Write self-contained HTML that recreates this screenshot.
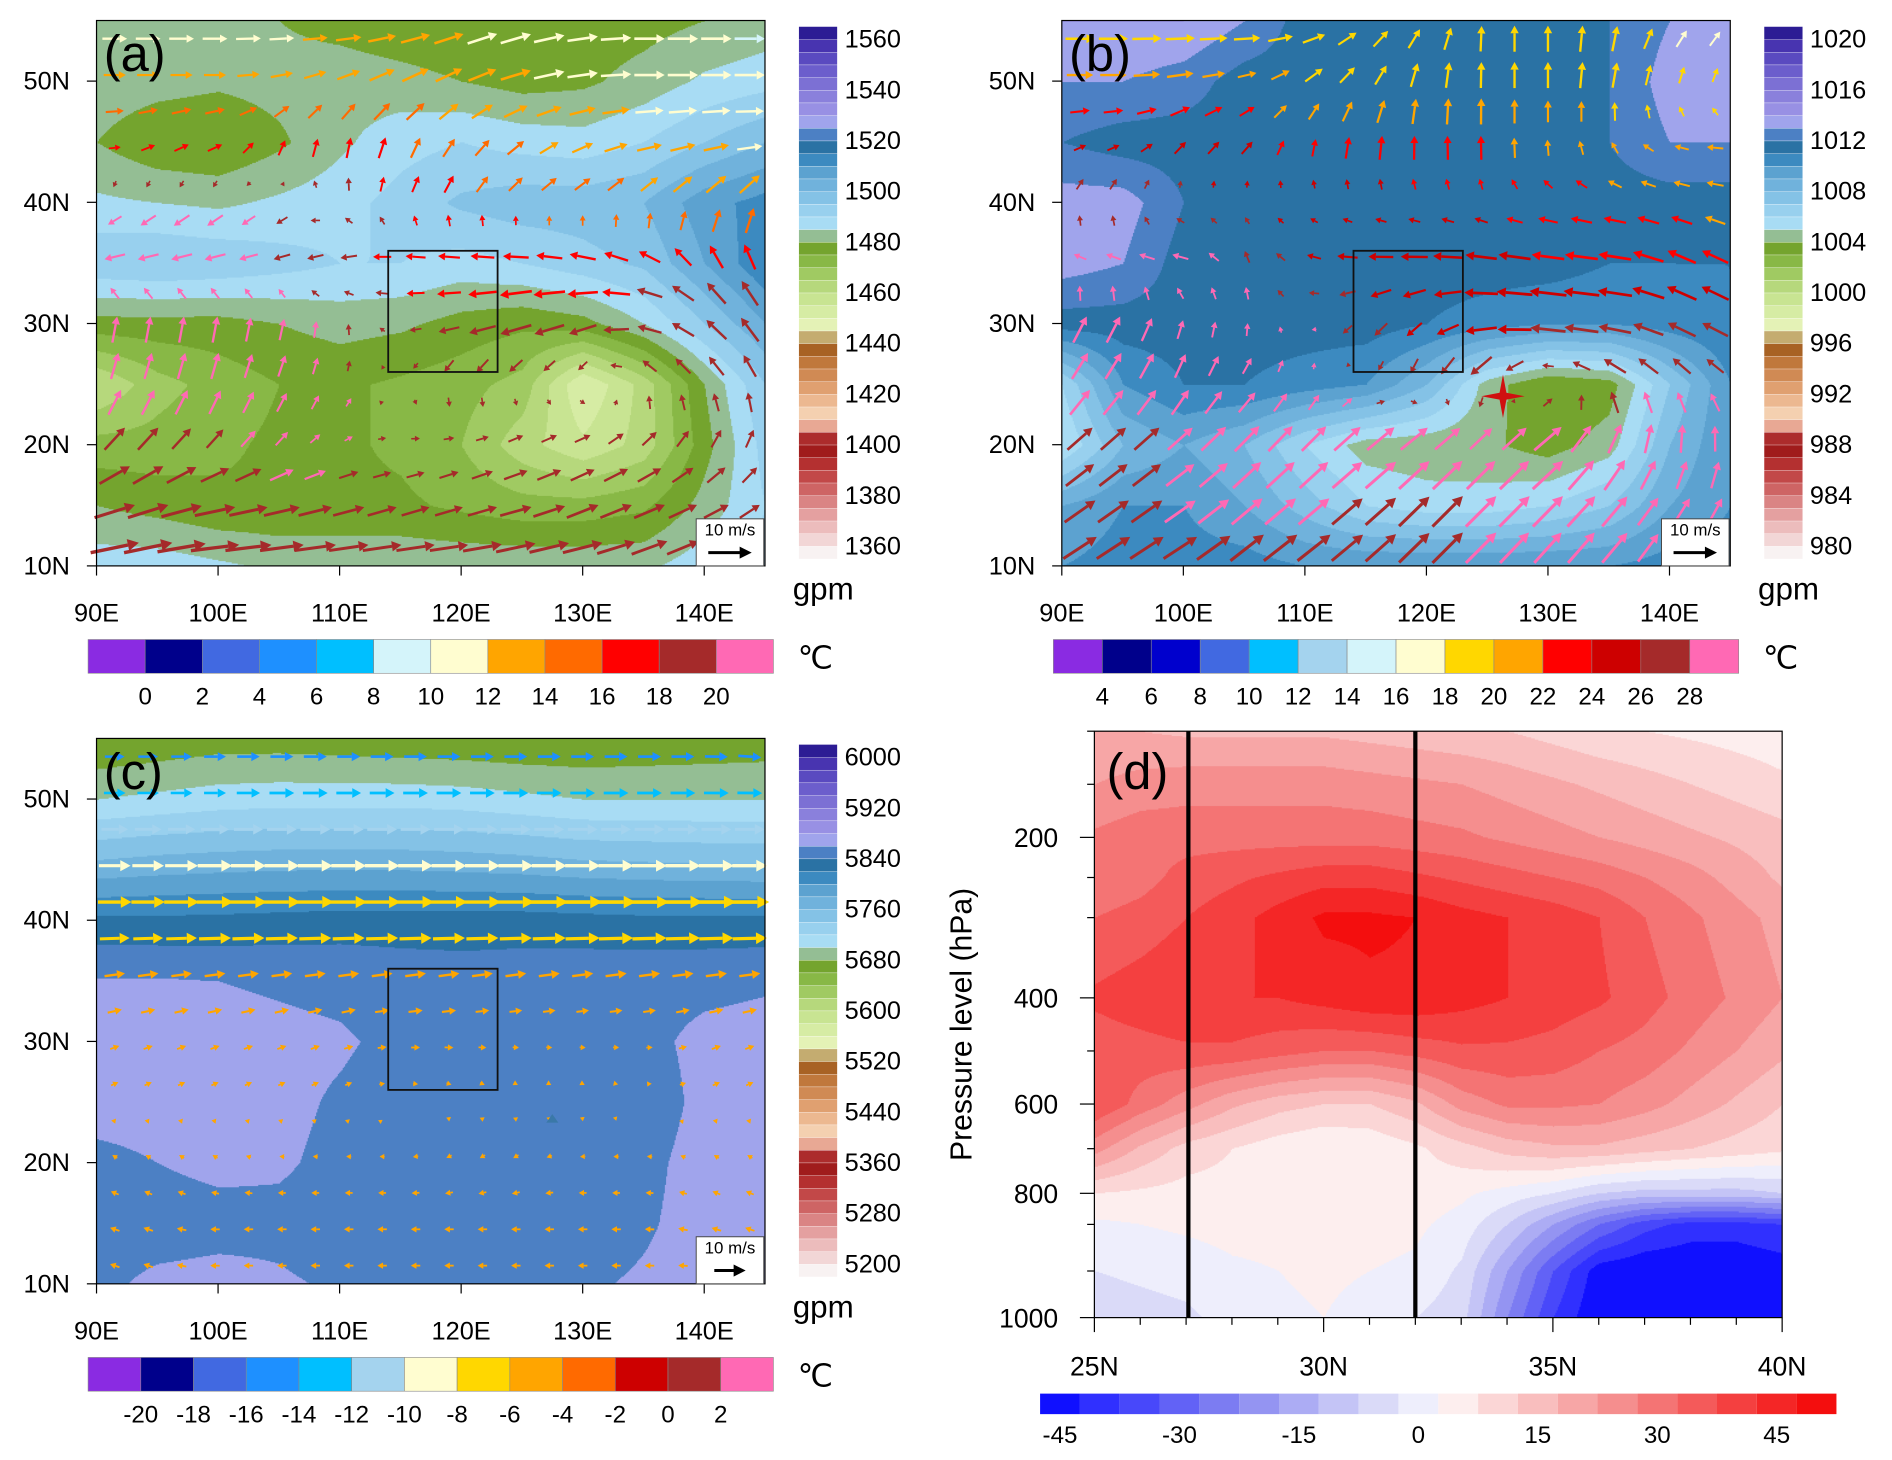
<!DOCTYPE html>
<html><head><meta charset="utf-8">
<style>
html,body{margin:0;padding:0;background:#fff;}
#wrap{position:relative;width:1892px;height:1460px;overflow:hidden;}
#stage{position:absolute;left:0;top:0;width:1568px;height:1210px;transform:scale(1.2066);transform-origin:0 0;}
canvas{position:absolute;}
svg{position:absolute;left:0;top:0;}
text{font-family:"Liberation Sans",sans-serif;fill:#000;}
</style></head>
<body>
<div id="wrap">
<div id="stage">
<canvas id="cva"></canvas>
<canvas id="cvb"></canvas>
<canvas id="cvc"></canvas>
<canvas id="cvd"></canvas>
<svg id="sv" width="1568" height="1210" viewBox="0 0 1568 1210"></svg>
</div></div>
<script>
// ---------- data ----------
const lons=[90,95,100,105,110,115,120,125,130,135,140,145];
const lats=[55,50,45,40,35,30,25,20,15,10];
const hgtA=[
[1483,1482,1481,1480,1478,1476,1475,1476,1477,1478,1480,1482],
[1483,1482,1481,1482,1483,1482,1480,1478,1479,1482,1486,1488],
[1480,1476,1475,1479,1484,1488,1490,1488,1487,1490,1495,1500],
[1486,1485,1484,1486,1488,1492,1496,1498,1498,1500,1508,1512],
[1494,1495,1494,1492,1490,1490,1488,1490,1493,1496,1505,1514],
[1478,1478,1478,1480,1482,1481,1478,1476,1478,1485,1495,1505],
[1460,1468,1472,1475,1476,1474,1472,1468,1450,1462,1480,1495],
[1472,1472,1474,1476,1476,1474,1470,1462,1456,1462,1478,1492],
[1480,1478,1476,1476,1476,1476,1474,1472,1472,1474,1482,1490],
[1488,1488,1486,1484,1484,1484,1484,1484,1484,1484,1488,1492]];
const uA=[[6,6,6,6,6,7,7,7,7,7,7,7],[5,5,5,5,5,6,6,7,7,7,7,7],[3,4,4,2,1,2,3,4,5,6,6,6],[-2,-3,-3,-2,-1,1,2,3,3,3,4,4],[-5,-5,-5,-4,-4,-5,-6,-7,-7,-6,-4,-3],[1,1,1,1,0,-2,-6,-8,-7,-6,-5,-4],[2,2,2,2,1,0,-1,-1,0,-2,-3,-2],[5,5,4,3,2,2,3,4,4,4,3,2],[9,9,9,8,7,6,6,7,7,7,6,4],[12,12,12,11,10,10,10,10,10,9,7,5]];
const vA=[[0,0,0,0,0,1,2,2,1,0,0,0],[0,0,0,1,2,3,3,2,1,0,0,0],[0,2,2,4,5,5,4,3,2,1,1,0],[-2,-3,-3,-2,2,3,4,3,3,4,5,6],[-1,-1,-1,-1,-1,0,0,0,1,2,5,6],[6,6,6,5,3,0,-1,-2,-2,1,4,6],[6,6,6,5,3,-1,-4,-3,-2,3,4,5],[5,5,4,3,1,0,1,2,2,3,4,4],[3,3,2,2,2,2,2,2,3,3,3,3],[2,2,1,1,1,1,1,2,2,3,3,3]];
const tA=[[11,11,11,11,13,12,12,11,11,11,11,9],[14,14,14,14,14,14,13,12,12,11,11,11],[16,17,17,17,17,16,14,14,13,13,12,11],[21,21,21,20,19,18,17,16,15,14,14,14],[21,21,21,20,19,17,17,17,17,18,18,18],[21,21,21,21,20,19,18,18,18,18,19,19],[21,21,21,21,20,19,19,19,19,19,19,19],[19,19,19,21,21,19,19,19,19,19,19,19],[19,19,19,19,19,19,19,19,19,19,19,19],[19,19,19,19,19,19,19,19,19,19,19,19]];
const slpB=[
[1014,1014,1014,1013,1011.5,1011.5,1011.5,1011.5,1011.5,1012,1013,1014],
[1013,1013,1012.5,1011.5,1011.5,1011.5,1011.5,1011.5,1011.5,1012,1013.5,1014],
[1012,1011.5,1011.5,1011.5,1011.5,1011.5,1011.5,1011.5,1011.5,1012,1013,1013],
[1013.5,1013.5,1012,1011.5,1011.5,1011.5,1011.5,1011.5,1011.5,1011.5,1011.5,1011.5],
[1013.5,1013,1011.5,1011.5,1011.5,1011.5,1011.5,1011.5,1011.5,1011,1011,1011],
[1011.5,1011.5,1011.5,1011.5,1011.5,1011.5,1011,1010.5,1010,1010,1010.5,1011],
[1006,1010,1011,1011,1010.5,1010,1008,1004.5,1003,1003.5,1007,1010],
[1005,1008,1009,1008,1006,1004.5,1004.3,1004.2,1003.5,1004.5,1008,1010],
[1009,1010,1010,1009,1007.5,1006,1005.5,1005.5,1006,1007,1009,1010],
[1010,1010.5,1010.5,1010.5,1010,1010,1010,1010,1010,1010,1010.5,1010.5]];
const uB=[[7,7,7,7,6,4,3,0,0,1,3,3],[6,6,6,4,4,3,1,0,0,1,1,1],[3,3,3,3,1,1,0,0,0,-1,-3,-4],[1,1,-1,-1,-1,-1,-1,-1,-3,-4,-4,-4],[-3,-4,-4,-1,-3,-6,-7,-8,-8,-8,-7,-6],[3,3,1,0,-1,-3,-4,-8,-9,-8,-7,-6],[4,4,3,3,1,0,-1,-4,0,-4,-3,-3],[6,6,6,6,6,7,7,6,7,4,1,0],[7,7,7,7,7,7,7,7,7,6,4,3],[8,8,8,8,8,7,7,7,6,6,4,3]];
const vB=[[0,0,0,0,1,3,4,6,6,6,4,3],[0,0,1,1,3,4,6,6,6,6,4,3],[1,1,3,3,4,6,6,6,4,3,1,0],[3,3,1,1,1,1,1,1,1,1,1,1],[1,1,1,3,1,0,0,1,1,1,3,3],[6,6,4,3,0,-3,-3,0,1,1,3,3],[6,6,6,4,3,-1,-4,-6,0,4,4,3],[5,5,5,6,6,6,6,6,6,7,7,6],[5,5,5,6,6,6,7,7,7,7,6,6],[5,5,5,6,6,6,7,7,7,7,6,6]];
const tB=[[18,18,19,19,19,19,18,19,19,19,17,17],[21,21,21,21,20,20,20,20,20,19,19,18],[24,24,24,24,23,23,22,22,21,21,20,20],[27,27,27,26,25,25,24,24,23,22,22,21],[29,29,29,28,26,25,25,25,24,24,24,23],[29,29,29,29,29,27,25,25,26,26,26,26],[29,29,29,29,29,27,27,27,27,27,28,28],[27,27,29,29,29,29,29,29,29,29,29,29],[27,27,29,29,29,27,27,29,29,29,29,29],[27,27,27,27,27,27,27,29,29,29,29,29]];
const hgtC=[
[5660,5665,5670,5670,5668,5666,5664,5662,5662,5664,5666,5668],
[5700,5705,5710,5712,5712,5712,5710,5705,5700,5700,5700,5700],
[5760,5765,5768,5770,5770,5770,5768,5765,5760,5758,5756,5755],
[5825,5825,5826,5828,5830,5830,5830,5830,5828,5826,5826,5826],
[5862,5862,5860,5858,5856,5852,5850,5852,5854,5855,5856,5858],
[5866,5866,5866,5864,5862,5856,5852,5852,5852,5856,5864,5866],
[5866,5866,5866,5864,5858,5852,5850,5848,5848,5852,5864,5868],
[5856,5860,5864,5862,5856,5852,5850,5850,5850,5856,5866,5868],
[5852,5852,5854,5856,5852,5850,5850,5850,5852,5858,5866,5868],
[5856,5864,5866,5862,5858,5856,5856,5856,5858,5862,5866,5866]];
const uC=[[6,6,7,7,7,7,7,7,7,7,7,7],[7,7,7,8,8,8,8,8,8,8,8,8],[10,10,11,11,11,11,11,11,11,11,11,11],[11,11,12,12,12,12,12,12,13,13,13,13],[6,6,6,6,6,6,6,6,6,6,6,6],[3,3,3,3,3,3,3,2,2,2,3,3],[2,2,2,2,2,1,1,1,1,1,2,2],[-2,-2,-2,-2,-2,-2,-2,-2,-2,-2,-2,-2],[-3,-3,-3,-3,-3,-3,-3,-3,-3,-3,-3,-3],[-3,-3,-3,-3,-3,-3,-3,-3,-3,-3,-3,-3]];
const vC=[[0,0,0,0,0,0,0,0,0,0,0,-1],[0,0,0,0,0,0,0,0,0,0,0,0],[0,0,0,0,0,0,0,0,0,0,0,0],[0,0,0,0,0,0,0,0,0,0,0,0],[1,1,1,1,1,1,1,1,1,1,1,1],[1,1,1,1,1,0,0,0,0,0,1,1],[1,1,1,1,1,0,-1,-1,-1,0,1,1],[1,1,1,0,0,0,-1,-1,0,0,1,1],[1,1,0,0,0,0,0,0,0,0,1,1],[1,1,0,0,0,0,0,0,0,0,0,1]];
const tC=[[-17,-17,-17,-17,-17,-17,-17,-17,-17,-17,-17,-17],[-13,-13,-13,-13,-13,-13,-13,-13,-13,-13,-13,-13],[-10,-10,-10,-10,-10,-10,-10,-10,-10,-10,-10,-10],[-7,-7,-7,-7,-7,-7,-7,-7,-7,-7,-7,-7],[-5,-5,-5,-5,-5,-5,-5,-5,-5,-5,-5,-5],[-5,-5,-5,-5,-5,-5,-5,-5,-5,-5,-5,-5],[-5,-5,-5,-5,-5,-5,-5,-5,-5,-5,-5,-5],[-5,-5,-5,-5,-5,-5,-5,-5,-5,-5,-5,-5],[-5,-5,-5,-5,-5,-5,-5,-5,-5,-5,-5,-5],[-5,-5,-5,-5,-5,-5,-5,-5,-5,-5,-5,-5]];
// panel d
const dLats=[25,26,27,28,29,30,31,32,33,34,35,36,37,38,39,40];
const dLevels=[1000,925,850,800,700,600,500,400,300,250,200,150,100];
const dVals=[
[-8,-7,-6,-3,-1,0,-2,-5,-8,-25,-40,-50,-50,-50,-50,-50],
[-5,-4,-3,-1,0,1,0,-1,-6,-20,-35,-48,-50,-50,-50,-48],
[-1,0,1,2,2,2,2,1,-2,-10,-20,-30,-38,-42,-42,-40],
[5,4,3,3,2,2,2,3,1,-2,-5,-10,-12,-12,-12,-10],
[22,14,8,5,2,0,1,4,8,12,14,14,12,10,8,6],
[35,28,22,16,12,10,10,14,22,26,26,25,22,18,14,10],
[32,33,34,34,32,30,30,32,34,34,33,30,28,24,20,16],
[36,38,40,40,40,42,44,44,42,40,38,36,32,28,24,20],
[30,32,35,38,42,46,46,45,42,40,38,35,30,26,22,18],
[26,28,32,34,36,38,38,36,34,32,30,28,25,22,18,14],
[26,28,28,28,28,28,28,27,26,24,22,20,18,16,14,12],
[20,22,23,23,23,23,22,21,20,18,16,14,12,10,8,6],
[15,15,14,14,14,14,13,12,11,10,8,6,5,4,3,2]];
const dAxisP=[1000,800,600,400,200,100];
const dAxisY=[1092,989,915,827,694,606];
const dYTicks=[200,400,600,800,1000];
const dXTicks=[25,30,35,40];
const lonTicks=[90,100,110,120,130,140];
const latTicks=[10,20,30,40,50];
const labA=[1560,1540,1520,1500,1480,1460,1440,1420,1400,1380,1360];
const labB=[1020,1016,1012,1008,1004,1000,996,992,988,984,980];
const labC=[6000,5920,5840,5760,5680,5600,5520,5440,5360,5280,5200];
const tLabA=[0,2,4,6,8,10,12,14,16,18,20];
const tLabB=[4,6,8,10,12,14,16,18,20,22,24,26,28];
const tLabC=[-20,-18,-16,-14,-12,-10,-8,-6,-4,-2,0,2];
const dCbLabels=[-45,-30,-15,0,15,30,45];

// ---------- palettes ----------
const PAL=['#f8f2f2','#f2d6d6','#ecbcbc','#e4a0a0','#da8484','#ce6464','#c24848','#b43030','#a01c1c','#ac2c2c',
'#e8a894','#f4d0b0','#ecb890','#e0a070','#d08a54','#c0783c','#a86224','#c4ac70',
'#e4f2b6','#d6eca4','#c8e492','#b6d87c','#a0ca62','#88b846','#74a42e','#94be94',
'#a8dcf4','#98d0ee','#84c2e6','#70b2dc','#5ca2d0','#3c8ac0','#2a72a4','#4c80c4',
'#a0a4ec','#9890e4','#8a80dc','#7c70d4','#6c5ecc','#5a4ac0','#4834b0','#2c1c94'];
const TPA=['#8a2be2','#00008b','#4169e1','#1e90ff','#00bfff','#d4f4fa','#fffdd0','#ffa500','#ff6a00','#ff0000','#a52a2a','#ff69b4'];
const TPB=['#8a2be2','#00008b','#0000cd','#4169e1','#00bfff','#a4d3ee','#d4f4fa','#fffdd0','#ffd700','#ffa500','#ff0000','#cd0000','#a52a2a','#ff69b4'];
const TPC=['#8a2be2','#00008b','#4169e1','#1e90ff','#00bfff','#a4d3ee','#fffdd0','#ffd700','#ffa500','#ff6a00','#cd0000','#a52a2a','#ff69b4'];
const DPAL=['#1010ff','#3030ff','#4848fa','#6262f6','#7c7cf2','#9494f2','#acacf4','#c4c4f6','#dadaf8','#eeeefc',
'#fdeeee','#fbd6d6','#f9bebe','#f7a6a6','#f58e8e','#f47474','#f45a5a','#f44040','#f42626','#f40e0e'];

const NS='http://www.w3.org/2000/svg';
const sv=document.getElementById('sv');
function mk(tag,attrs,parent,txt){const e=document.createElementNS(NS,tag);for(const k in attrs)e.setAttribute(k,attrs[k]);if(txt!==undefined)e.textContent=txt;(parent||sv).appendChild(e);return e;}

function bil(g,lon,lat){
  let fx=(lon-90)/5, fy=(55-lat)/5;
  fx=Math.max(0,Math.min(10.999,fx)); fy=Math.max(0,Math.min(8.999,fy));
  const i=Math.floor(fx), j=Math.floor(fy), a=fx-i, b=fy-j;
  return g[j][i]*(1-a)*(1-b)+g[j][i+1]*a*(1-b)+g[j+1][i]*(1-a)*b+g[j+1][i+1]*a*b;
}
function setupCanvas(id,x,y,w,h){const c=document.getElementById(id);const S=2;c.width=w*S;c.height=h*S;c.style.left=x+'px';c.style.top=y+'px';c.style.width=w+'px';c.style.height=h+'px';const ctx=c.getContext('2d');ctx.scale(S,S);return ctx;}

function makeMap(P){
  const X0=P.x, Y0=P.y, W=554, H=452;
  const lx=lon=>X0+(lon-90)*W/55, ly=lat=>Y0+(55-lat)*H/45;
  const ctx=setupCanvas(P.cv,X0,Y0,W,H);
  const st=1;
  for(let py=0;py<H;py+=st)for(let px=0;px<W;px+=st){
    const lon=90+px/W*55, lat=55-py/H*45;
    const v=bil(P.field,lon,lat)+P.step*0.001;
    let k=Math.floor((v-P.min)/P.step);k=Math.max(0,Math.min(41,k));
    ctx.fillStyle=PAL[k];ctx.fillRect(px,py,st+0.5,st+0.5);
  }
  const g=mk('g',{});
  const ag=mk('g',{},g);
  for(let lat=53.5;lat>10;lat-=3){for(let lon=91.5;lon<145;lon+=2.75){
    const u=bil(P.u,lon,lat), v=bil(P.v,lon,lat), t=bil(P.t,lon,lat)+0.001;
    const sp=Math.hypot(u,v); if(sp<0.3)continue;
    let k=Math.floor((t-P.tmin)/2)+1; k=Math.max(0,Math.min(P.tp.length-1,k));
    const L=sp*P.scale, cx=lx(lon), cy=ly(lat), dx=u/sp, dy=-v/sp;
    const x1=cx-dx*L/2,y1=cy-dy*L/2,x2=cx+dx*L/2,y2=cy+dy*L/2;
    const hw=1.8+sp*0.28, hl=3+sp*0.55;
    const bx=x2-dx*hl, by=y2-dy*hl;
    const a=mk('path',{d:`M${x1},${y1}L${bx},${by}`,stroke:P.tp[k],'stroke-width':1+sp*0.16,fill:'none'},ag);
    
    
    const hd=mk('path',{d:`M${x2},${y2}L${bx-dy*hw},${by+dx*hw}L${bx+dy*hw},${by-dx*hw}Z`,fill:P.tp[k]},ag);
    
    
  }}
  mk('rect',{x:X0,y:Y0,width:W,height:H,fill:'none',stroke:'#000','stroke-width':1,},g);
  mk('rect',{x:lx(114),y:ly(36),width:lx(123)-lx(114),height:ly(26)-ly(36),fill:'none',stroke:'#111','stroke-width':1.5,},g);
  lonTicks.forEach(l=>{mk('line',{x1:lx(l),x2:lx(l),y1:Y0+H,y2:Y0+H+8,stroke:'#000'},g);
    mk('text',{x:lx(l),y:Y0+H+46,'font-size':21,'text-anchor':'middle',},g,l+'E');});
  latTicks.forEach(l=>{mk('line',{x1:X0-8,x2:X0,y1:ly(l),y2:ly(l),stroke:'#000'},g);
    mk('text',{x:X0-22,y:ly(l)+7,'font-size':21,'text-anchor':'end',},g,l+'N');});
  mk('text',{x:X0+6,y:Y0+42,'font-size':42,'font-family':'Liberation Serif',},g,P.label);
  mk('rect',{x:X0+W-57,y:Y0+H-39,width:56,height:39,fill:'#fff',stroke:'#444','stroke-width':0.8,},g);
  mk('text',{x:X0+W-29,y:Y0+H-25,'font-size':14,'text-anchor':'middle'},g,'10 m/s');
  const rl=10*P.scale, rx=X0+W-29-rl/2, ry=Y0+H-11;
  mk('path',{d:`M${rx},${ry}L${rx+rl-9},${ry}`,stroke:'#000','stroke-width':2.5},g);
  mk('path',{d:`M${rx+rl},${ry}L${rx+rl-10},${ry-5}L${rx+rl-10},${ry+5}Z`,fill:'#000'},g);
  const cbx=P.x+582, cby=Y0+5, seg=10.5;
  const cg=mk('g',{},g);
  for(let k=0;k<42;k++)mk('rect',{x:cbx,y:cby+(41-k)*seg,width:32,height:seg+0.3,fill:PAL[k],stroke:'#fff','stroke-width':0.3},cg);
  P.rlab.forEach((t,i)=>mk('text',{x:cbx+38,y:cby+seg+i*42+7,'font-size':21,},cg,t));
  mk('text',{x:cbx-5,y:Y0+H+28,'font-size':26,},g,'gpm');
  const bx0=P.x-7, bw=568, n=P.tp.length, bwid=bw/n, byy=Y0+H+61;
  const bg=mk('g',{},g);
  for(let k=0;k<n;k++)mk('rect',{x:bx0+k*bwid,y:byy,width:bwid,height:28,fill:P.tp[k],stroke:'#888','stroke-width':0.5},bg);
  P.tlab.forEach((t,i)=>mk('text',{x:bx0+(i+1)*bwid,y:byy+54,'font-size':20,'text-anchor':'middle',},bg,t));
  mk('text',{x:bx0+bw+20,y:byy+24,'font-size':26,},g,'℃');
  return {lx,ly,g};
}
const A=makeMap({name:'panel-a',cv:'cva',x:80,y:17,field:hgtA,min:1355,step:5,u:uA,v:vA,t:tA,tp:TPA,tmin:0,scale:3.6,label:'(a)',rlab:labA,tlab:tLabA});
const B=makeMap({name:'panel-b',cv:'cvb',x:880,y:17,field:slpB,min:979,step:1,u:uB,v:vB,t:tB,tp:TPB,tmin:4,scale:3.6,label:'(b)',rlab:labB,tlab:tLabB});
const C=makeMap({name:'panel-c',cv:'cvc',x:80,y:612,field:hgtC,min:5180,step:20,u:uC,v:vC,t:tC,tp:TPC,tmin:-20,scale:2.6,label:'(c)',rlab:labC,tlab:tLabC});
(function(){const cx=B.lx(126.3),cy=B.ly(24),r=18,ri=4;let d='';for(let i=0;i<8;i++){const a=i*Math.PI/4-Math.PI/2,rr=i%2?ri:r;d+=(i?'L':'M')+(cx+rr*Math.cos(a))+','+(cy+rr*Math.sin(a));}
mk('path',{d:d+'Z',fill:'#d01010',});})();
mk('path',{d:`M${C.lx(127.5)},${C.ly(24)}l-5,7l10,0z`,fill:'#3a78a8',});

// ---------- panel d ----------
function pToY(p){for(let i=0;i<dAxisP.length-1;i++){const a=dAxisP[i],b=dAxisP[i+1];if(p<=a&&p>=b)return dAxisY[i]+(p-a)/(b-a)*(dAxisY[i+1]-dAxisY[i]);}return p>1000?dAxisY[0]:dAxisY[dAxisY.length-1];}
const DX0=907,DX1=1477,DY0=606,DY1=1092;
const dx=lat=>DX0+(lat-25)/15*(DX1-DX0);
(function(){
  const ctx=setupCanvas('cvd',DX0,DY0,DX1-DX0,DY1-DY0);
  const levY=dLevels.map(pToY);
  for(let py=0;py<DY1-DY0;py++)for(let px=0;px<DX1-DX0;px++){
    const lat=25+px/(DX1-DX0)*15, y=DY0+py+0.5;
    let j=0;while(j<levY.length-2&&y<levY[j+1])j++;
    const b=Math.max(0,Math.min(1,(levY[j]-y)/(levY[j]-levY[j+1])));
    let fi=Math.min(14.999,lat-25),i=Math.floor(fi),a=fi-i;
    const v=dVals[j][i]*(1-a)*(1-b)+dVals[j][i+1]*a*(1-b)+dVals[j+1][i]*(1-a)*b+dVals[j+1][i+1]*a*b+0.001;
    let k=Math.floor((v+50)/5);k=Math.max(0,Math.min(19,k));
    ctx.fillStyle=DPAL[k];ctx.fillRect(px,py,1.5,1.5);
  }
})();
const dg=mk('g',{});
mk('rect',{x:DX0,y:DY0,width:DX1-DX0,height:DY1-DY0,fill:'none',stroke:'#000','stroke-width':1,},dg);
mk('line',{x1:dx(27.05),x2:dx(27.05),y1:DY0,y2:DY1,stroke:'#000','stroke-width':3.5,},dg);
mk('line',{x1:dx(32),x2:dx(32),y1:DY0,y2:DY1,stroke:'#000','stroke-width':3.5,},dg);
for(let l=25;l<=40;l++)mk('line',{x1:dx(l),x2:dx(l),y1:DY1,y2:DY1+(l%5?6:12),stroke:'#000'},dg);
dXTicks.forEach(l=>mk('text',{x:dx(l),y:DY1+48,'font-size':22,'text-anchor':'middle',},dg,l+'N'));
dYTicks.forEach(p=>{mk('line',{x1:DX0-12,x2:DX0,y1:pToY(p),y2:pToY(p),stroke:'#000'},dg);
  mk('text',{x:DX0-30,y:pToY(p)+8,'font-size':22,'text-anchor':'end',},dg,p);});
[100,150,250,300,500,700,850,925].forEach(p=>mk('line',{x1:DX0-6,x2:DX0,y1:pToY(p),y2:pToY(p),stroke:'#000'},dg));
mk('text',{x:0,y:0,'font-size':25,'text-anchor':'middle',transform:'translate(805,849) rotate(-90)',},dg,'Pressure level (hPa)');
mk('text',{x:DX0+10,y:DY0+48,'font-size':42,'font-family':'Liberation Serif',},dg,'(d)');
const dcb=mk('g',{},dg);
const cbw=660/20;
for(let k=0;k<20;k++)mk('rect',{x:862+k*cbw,y:1155,width:cbw,height:17,fill:DPAL[k]},dcb);
dCbLabels.forEach(v=>mk('text',{x:862+(v+50)/5*cbw-cbw/2,y:1196,'font-size':20,'text-anchor':'middle',},dcb,v));
</script>
</body></html>
